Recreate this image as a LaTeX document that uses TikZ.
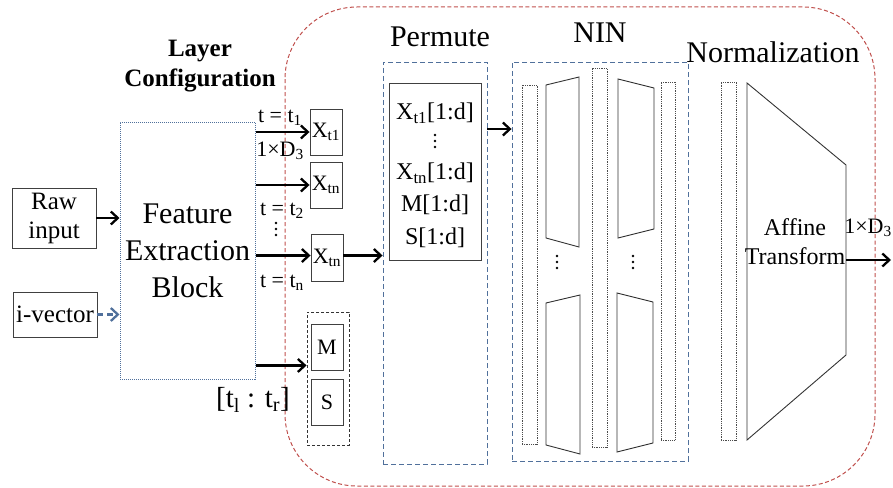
\documentclass[tikz,border=0pt]{standalone}
\usepackage{fontspec}
\setmainfont{Liberation Serif}
\usepackage{tikz}
\usetikzlibrary{positioning,calc,arrows.meta}
\definecolor{framered}{RGB}{192,80,77}
\definecolor{boxblue}{RGB}{80,112,155}

\begin{document}
\begin{tikzpicture}[x=1pt,y=-1pt]
            \tikzset{
                block/.style={
                    draw=black!75,
                    line width=0.9pt,
                    inner sep=0pt,
                    align=center,
                    font=\fontsize{25}{29}\selectfont
                }
            }
            \tikzset{
                xbox/.style={
                    block,
                    minimum width=32pt,
                    minimum height=46pt,
                    font=\fontsize{22}{24}\selectfont
                }
            }
            \tikzset{
                stage/.style={
                    draw=boxblue,
                    dash pattern=on 5pt off 3pt,
                    line width=0.9pt,
                    inner sep=0pt
                }
            }
            \tikzset{
                slab/.style={
                    draw=black!70,
                    densely dotted,
                    line width=0.8pt,
                    inner sep=0pt,
                    minimum width=15pt
                }
            }
            \tikzset{
                lbl/.style={
                    inner sep=0pt,
                    font=\fontsize{22}{24}\selectfont
                }
            }
            \tikzset{
                title/.style={
                    inner sep=0pt,
                    font=\fontsize{30}{34}\selectfont
                }
            }
            \tikzset{
                flow/.style={
                    -{Straight Barb[length=7pt,width=13pt]},
                    line width=2.3pt
                }
            }

            \useasboundingbox (0,0) rectangle (893,487);

            \draw[framered, dash pattern=on 4pt off 2.5pt, line width=1pt, rounded corners=72pt] (285,7) rectangle (875,486);

            \node[block, minimum width=84pt, minimum height=60pt] (raw) at (54,218) {Raw\\input};
            \node[block, minimum width=84pt, minimum height=45pt] (ivec) at (55,314.5) {i-vector};
            \node[draw=boxblue, densely dotted, line width=1pt, minimum width=135pt, minimum height=257pt,
                  align=center, font=\fontsize{30}{37}\selectfont] (feb) at (187.5,250.5) {Feature\\Extraction\\Block};
            \node[inner sep=0pt, align=center, font=\bfseries\fontsize{25}{30}\selectfont] (layer) at (200,66) {Layer\\Configuration};

            \node[xbox] (xa) at (326,132) {X\textsubscript{t1}};
            \node[xbox] (xb) at (326,185) {X\textsubscript{tn}};
            \node[xbox, minimum height=47pt] (xc) at (327,257.5) {X\textsubscript{tn}};
            \node[draw=black!80, densely dashed, line width=0.9pt, minimum width=42pt, minimum height=133pt] (msgrp) at (328,378.5) {};
            \node[xbox] (mbox) at (327,347) {M};
            \node[xbox] (sbox) at (327,402) {S};

            \node[lbl] (ta) at (280,118) {t = t\textsubscript{1}};
            \node[lbl] (dim) at (280,151) {1×D\textsubscript{3}};
            \node[lbl] (tb) at (282,211) {t = t\textsubscript{2}};
            \node[lbl] (tn) at (282,283) {t = t\textsubscript{n}};
            \node[inner sep=0pt, font=\fontsize{29}{32}\selectfont] (range) at (253,400) {[t\textsubscript{l} : t\textsubscript{r}]};

            \node[stage, minimum width=104pt, minimum height=402pt] (perm) at (435,263) {};
            \node[title] (permt) at (440,37) {Permute};
            \node[block, minimum width=92pt, minimum height=177pt] (pin) at (435,171.5) {};
            \node[lbl, font=\fontsize{24}{26}\selectfont] (pa1) at (435,113) {X\textsubscript{t1}[1:d]};
            \node[lbl, font=\fontsize{24}{26}\selectfont] (pa2) at (435,173) {X\textsubscript{tn}[1:d]};
            \node[lbl, font=\fontsize{24}{26}\selectfont] (pa3) at (435,205) {M[1:d]};
            \node[lbl, font=\fontsize{24}{26}\selectfont] (pa4) at (435,238) {S[1:d]};

            \node[stage, minimum width=176pt, minimum height=399pt] (nin) at (600,261.5) {};
            \node[title] (nint) at (600,33) {NIN};
            \node[slab, minimum height=359pt] (s1) at (529.5,264.5) {};
            \node[slab, minimum height=379pt] (s2) at (599.5,257.5) {};
            \node[slab, minimum width=14pt, minimum height=358pt] (s3) at (668,261) {};
            \draw[black!80, line width=0.9pt] (546,85) -- (579,77) -- (579,247) -- (546,238) -- cycle;
            \draw[black!80, line width=0.9pt] (546,303) -- (580,295) -- (580,454) -- (546,445) -- cycle;
            \draw[black!80, line width=0.9pt] (618,79) -- (654,88) -- (654,229) -- (618,238) -- cycle;
            \draw[black!80, line width=0.9pt] (617,293) -- (653,302) -- (653,443) -- (617,452) -- cycle;

            \foreach \dx/\dy in {276/223, 435/135, 557/256, 633/256}
                \foreach \k in {0,6,12}
                    \fill (\dx,\dy+\k) circle (1.3pt);

            \node[title] (normt) at (773,52) {Normalization};
            \node[slab, minimum height=358pt] (s4) at (728.5,261) {};
            \draw[black!80, line width=0.9pt] (747,83) -- (846,165) -- (846,355) -- (747,440) -- cycle;
            \node[inner sep=0pt, align=center, font=\fontsize{24}{29}\selectfont] (aff) at (795,242) {Affine\\Transform};
            \node[lbl] (outdim) at (868,228) {1×D\textsubscript{3}};

            \coordinate (pa) at (0,129);
            \coordinate (affr) at (846,260);
            \coordinate (out) at (891,260);

            \draw[flow] (raw.east) -- (raw.east -| feb.west);
            \draw[flow, boxblue, dash pattern=on 6pt off 4pt] (ivec.east) -- (ivec.east -| feb.west);
            \draw[flow] (feb.east |- xa.west) -- (xa.west);
            \draw[flow] (feb.east |- xb.west) -- (xb.west);
            \draw[flow] ([yshift=2pt]feb.east |- xc.west) -- ([yshift=2pt]xc.west);
            \draw[flow] ([yshift=5pt]feb.east |- mbox.south) -- ([yshift=5pt]msgrp.west |- mbox.south);
            \draw[flow] ([yshift=2pt]xc.east) -- ([yshift=2pt]xc.east -| perm.west);
            \draw[flow] (perm.east |- pa) -- (nin.west |- pa);
            \draw[flow] (affr) -- (out);
        \end{tikzpicture}
\end{document}
